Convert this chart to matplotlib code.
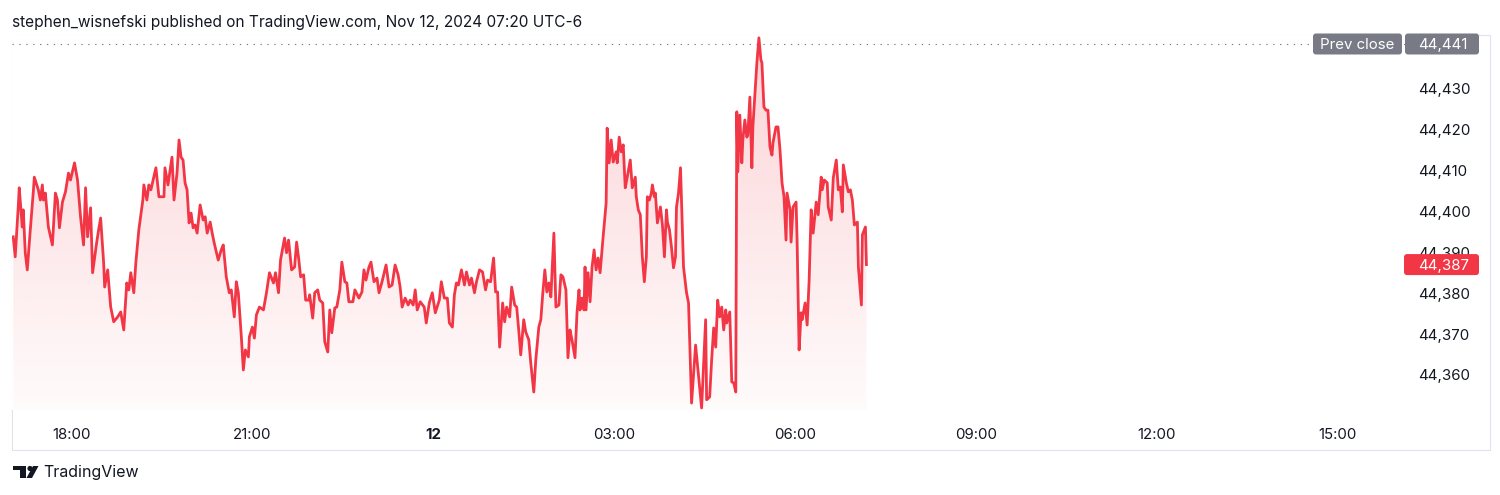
import numpy as np
import matplotlib
matplotlib.use("Agg")
import matplotlib.pyplot as plt
from matplotlib.patches import Rectangle, FancyBboxPatch, Polygon, Circle
from matplotlib.transforms import IdentityTransform
from matplotlib.ticker import FuncFormatter

plt.rcParams['font.family'] = ['Inter', 'DejaVu Sans']

# waktu: menit sejak 11 Nov 17:00 (UTC-6), harga indeks
minutes = [
    2, 4, 7, 8, 11, 12, 14, 16, 19, 22, 23, 27, 29, 31, 32, 34, 37, 41, 44, 46,
    48, 51, 54, 57, 59, 63, 66, 69, 72, 74, 76, 79, 81, 85, 87, 89, 92, 93, 96, 99,
    102, 106, 109, 112, 115, 117, 119, 122, 124, 127, 131, 132, 135, 137,
    139, 144, 147, 152, 153, 156, 160, 162, 165, 167, 169, 171, 173, 175, 177, 179,
    181, 183, 185, 188, 191, 193, 195, 198, 200, 202, 206, 209, 211, 214, 217, 219,
    222, 224, 226, 229, 231, 233, 236, 237, 240, 242, 244, 247, 251, 254, 257, 261,
    263, 266, 268, 272, 274, 276,
    279, 282, 284, 286, 288, 291, 293, 296, 297, 300, 302, 305, 307, 310, 312, 315,
    317, 319, 322, 324, 327, 329, 332, 334, 336, 340, 342, 346, 349, 351, 353, 356,
    358, 361, 364, 366, 369, 373, 376, 379, 382, 385, 387, 389, 392, 395, 397, 400,
    402, 404, 407, 411, 413, 416,
    419, 422, 426, 428, 431, 434, 436, 439, 441, 443, 445, 448, 451, 453, 456, 458,
    461, 463, 466, 469, 472, 474, 477, 480, 482, 484, 486, 489, 491, 493, 496, 498,
    501, 503, 505, 507, 510, 512, 515, 517, 520, 522, 525, 527, 529, 531, 533, 535,
    537, 540, 542, 545, 547,
    549, 552, 554, 556, 558, 561, 563, 565, 566, 568, 570, 571, 572, 574, 576, 578,
    580, 582, 584, 586, 589, 592, 593, 595, 597, 599, 602, 603, 605, 607, 609, 611,
    613, 616, 618, 621, 622, 624, 626, 628, 630, 632, 633, 635, 637, 638, 640, 641,
    643, 646, 648, 650, 652, 653, 655, 657, 659, 661, 662, 664, 666,
    669, 672, 674, 677, 681, 684, 687, 691, 692, 695, 697, 699, 701, 703, 705, 707,
    709, 711, 712, 715, 717, 719, 721, 722, 723, 725, 727, 728, 730, 732, 733, 735,
    737, 738, 740, 742, 744, 746, 747, 749, 751, 753, 755, 757, 758, 761, 763, 765, 767,
    769, 771, 772, 775, 776, 778, 781, 782, 784, 786, 787, 790, 792, 794, 796, 798,
    801, 803, 806, 807, 809, 812, 813, 816, 818, 821, 823, 825, 827, 828, 831, 833,
    835, 837, 839, 842, 843, 846, 847, 850, 851,
]
price = [
    44393.8, 44388.9, 44401.1, 44405.8, 44396.2, 44400.4, 44389.9, 44385.7, 44395.5, 44404.8,
    44408.4, 44405.3, 44402.8, 44406.5, 44402.8, 44404.5, 44396.2, 44391.8, 44404.5, 44402.8,
    44396.0, 44402.3, 44404.8, 44409.4, 44407.7, 44411.9, 44407.7, 44398.7, 44391.8, 44405.8,
    44393.8, 44400.9, 44385.0, 44392.3, 44395.5, 44398.4, 44387.4, 44381.5, 44385.7, 44376.6,
    44373.0, 44374.2, 44375.4, 44371.0, 44382.5, 44380.8, 44385.0, 44380.1, 44387.4, 44395.5,
    44402.8, 44406.5, 44402.8, 44406.5,
    44405.3, 44410.7, 44403.6, 44403.6, 44410.7, 44406.5, 44413.3, 44402.8, 44409.4, 44417.5,
    44413.3, 44412.6, 44407.0, 44405.3, 44397.2, 44399.6, 44396.0, 44396.7, 44394.7, 44401.6,
    44397.9, 44398.7, 44394.7, 44397.4, 44394.7, 44392.3, 44388.1, 44390.6, 44391.8, 44384.0,
    44380.1, 44380.8, 44374.2, 44382.8, 44380.1, 44369.3, 44361.2, 44366.1, 44364.4, 44369.3,
    44371.7, 44369.0, 44374.7, 44376.6, 44375.9, 44380.1, 44385.0, 44382.5, 44385.0, 44380.1,
    44388.1, 44393.5, 44389.9, 44393.0,
    44385.7, 44386.4, 44392.5, 44388.6, 44384.0, 44384.5, 44378.3, 44378.3, 44379.6, 44373.9,
    44380.1, 44380.8, 44378.3, 44377.6, 44368.1, 44365.6, 44375.9, 44370.3, 44376.4, 44376.6,
    44380.8, 44387.6, 44382.8, 44382.5, 44377.9, 44377.9, 44380.8, 44378.8, 44380.3, 44385.7,
    44383.2, 44386.4, 44387.6, 44382.8, 44383.7, 44380.1, 44382.8, 44386.9, 44381.5, 44382.0,
    44386.9, 44384.5, 44381.5, 44376.6, 44378.8, 44377.1, 44378.3, 44377.1, 44380.8, 44375.9,
    44377.9, 44376.6, 44372.7, 44377.6,
    44380.1, 44375.2, 44378.3, 44382.8, 44378.8, 44378.8, 44372.7, 44371.7, 44379.6, 44382.5,
    44382.0, 44385.7, 44382.0, 44385.2, 44382.0, 44383.7, 44380.1, 44382.8, 44385.7, 44385.2,
    44380.8, 44383.2, 44382.8, 44388.6, 44380.3, 44380.3, 44366.8, 44377.6, 44373.0, 44376.6,
    44374.2, 44381.5, 44377.1, 44376.6, 44371.0, 44364.9, 44373.5, 44370.5, 44368.6, 44362.9,
    44355.8, 44363.7, 44371.7, 44373.5, 44380.1, 44385.7, 44380.3, 44382.5, 44379.1, 44394.7,
    44376.6, 44377.1, 44384.5,
    44384.0, 44380.8, 44364.2, 44371.0, 44368.6, 44364.2, 44375.2, 44380.8, 44375.9, 44378.8,
    44375.9, 44386.4, 44375.9, 44385.0, 44377.9, 44386.4, 44390.6, 44385.7, 44388.6, 44385.0,
    44393.8, 44402.1, 44420.4, 44411.9, 44417.5, 44412.1, 44414.6, 44411.9, 44418.2, 44414.6,
    44416.3, 44405.8, 44408.4, 44412.6, 44405.8, 44408.4, 44403.6, 44400.4, 44399.2, 44388.9,
    44382.8, 44388.9, 44403.6, 44402.8, 44404.5, 44406.5, 44403.6, 44404.5, 44397.2, 44401.1,
    44396.7, 44388.9, 44400.4, 44397.4, 44395.5, 44391.3, 44386.2, 44388.9, 44401.1, 44404.5,
    44410.7,
    44386.4, 44380.1, 44377.6, 44353.1, 44367.3, 44359.5, 44351.9, 44373.5, 44353.9, 44354.6,
    44363.7, 44371.5, 44366.8, 44378.3, 44374.2, 44376.6, 44371.0, 44375.9, 44372.7, 44375.4,
    44358.3, 44358.0, 44355.8, 44424.4, 44409.7, 44423.6, 44411.9, 44417.5, 44422.4, 44418.2,
    44418.7, 44428.0, 44410.7, 44420.7, 44428.5, 44436.4, 44442.5, 44437.1, 44436.4, 44425.6,
    44424.8, 44424.8, 44415.8, 44413.8, 44416.8, 44420.7, 44420.7, 44415.1, 44407.0,
    44403.6, 44393.0, 44404.5, 44400.4, 44392.5, 44401.1, 44402.3, 44393.0, 44366.1, 44375.2,
    44373.5, 44377.6, 44372.2, 44383.2, 44400.4, 44394.7, 44402.3, 44399.2, 44408.4, 44405.3,
    44407.7, 44407.0, 44401.1, 44397.9, 44408.2, 44412.6, 44405.3, 44406.0, 44399.9, 44411.4,
    44407.0, 44404.8, 44405.3, 44402.8, 44396.7, 44397.4, 44386.4, 44377.1, 44394.3, 44396.2,
    44387.0,
]

prev_close = 44441
price_ticks = [44360, 44370, 44380, 44390, 44400, 44410, 44420, 44430]
time_ticks = [60, 240, 420, 600, 780, 960, 1140, 1320]
time_labels = ['18:00', '21:00', '12', '03:00', '06:00', '09:00', '12:00', '15:00']

RED = '#F23645'
TEXT = '#131722'
GREY = '#787B86'

W, H = 1500, 495
fig = plt.figure(figsize=(W / 100, H / 100), dpi=100)
ax = fig.add_axes([12 / W, 1 - 410 / H, 1393 / W, 375 / H])

y_lo, y_hi = 44351.4, 44443.2

# garis harga
ax.plot(minutes, price, color=RED, lw=2.0, solid_joinstyle='round', zorder=3)

# isian gradien di bawah garis
area = ax.fill_between(minutes, price, y_lo, color='none', lw=0)
grad = np.zeros((256, 1, 4))
grad[..., :3] = matplotlib.colors.to_rgb(RED)
grad[..., 3] = np.linspace(0.02, 0.22, 256)[:, None]
img = ax.imshow(grad, extent=[minutes[0], minutes[-1], y_lo, max(price)],
                origin='lower', aspect='auto', zorder=2, interpolation='bilinear')
img.set_clip_path(area.get_paths()[0], transform=ax.transData)

# garis prev close
ax.axhline(prev_close, color=GREY, lw=0.8, ls=(0, (1.2, 5)), zorder=1)

ax.set_xlim(0.8, 1386.9)
ax.set_ylim(y_lo, y_hi)

for s in ax.spines.values():
    s.set_visible(False)
ax.yaxis.tick_right()
ax.set_yticks(price_ticks)
ax.yaxis.set_major_formatter(FuncFormatter(lambda v, p: f"{v:,.0f}"))
ax.set_xticks(time_ticks)
ax.set_xticklabels(time_labels)
ax.tick_params(axis='y', length=0, pad=9.5, labelsize=10.8, labelcolor=TEXT)
ax.tick_params(axis='x', length=0, pad=13, labelsize=10.8, labelcolor=TEXT)
ax.get_xticklabels()[2].set_fontweight('bold')

# bingkai luar
fig.add_artist(Rectangle((12, H - 450), 1478, 415, transform=IdentityTransform(),
                         fc='none', ec='#E0E3EB', lw=0.8, zorder=0))


def badge(x0, x1, value, label, fc, tx, ha):
    y = ax.transData.transform((0, value))[1]
    fig.add_artist(FancyBboxPatch((x0, y - 10.5), x1 - x0, 21,
                                  boxstyle='round,pad=0,rounding_size=3',
                                  transform=IdentityTransform(), fc=fc, ec='none', zorder=5))
    fig.text(tx, y, label, transform=IdentityTransform(), ha=ha, va='center_baseline',
             color='white', fontsize=10.8, zorder=6)


badge(1313, 1402, prev_close, 'Prev close', GREY, 1357.5, 'center')
badge(1405, 1479, prev_close, f"{prev_close:,}", GREY, 1418, 'left')
badge(1404, 1479, price[-1], f"{price[-1]:,.0f}", RED, 1418, 'left')

# judul atas
fig.text(12, H - 22, 'stephen_wisnefski published on TradingView.com, Nov 12, 2024 07:20 UTC-6',
         transform=IdentityTransform(), ha='left', va='center', fontsize=11.1, color=TEXT)

# logo TradingView
logo_c = TEXT
fig.add_artist(Rectangle((13, H - 470), 13, 4, transform=IdentityTransform(), fc=logo_c, ec='none'))
fig.add_artist(Rectangle((20, H - 478), 6, 12, transform=IdentityTransform(), fc=logo_c, ec='none'))
fig.add_artist(Circle((30, H - 468.5), 2.6, transform=IdentityTransform(), fc=logo_c, ec='none'))
fig.add_artist(Polygon([(33, H - 466), (38.5, H - 466), (32, H - 478), (26.5, H - 478)],
                       closed=True, transform=IdentityTransform(), fc=logo_c, ec='none'))
fig.text(43, H - 473, 'TradingView', transform=IdentityTransform(), ha='left', va='center',
         fontsize=11.5, color=TEXT)

fig.savefig('out.png', dpi=100)
